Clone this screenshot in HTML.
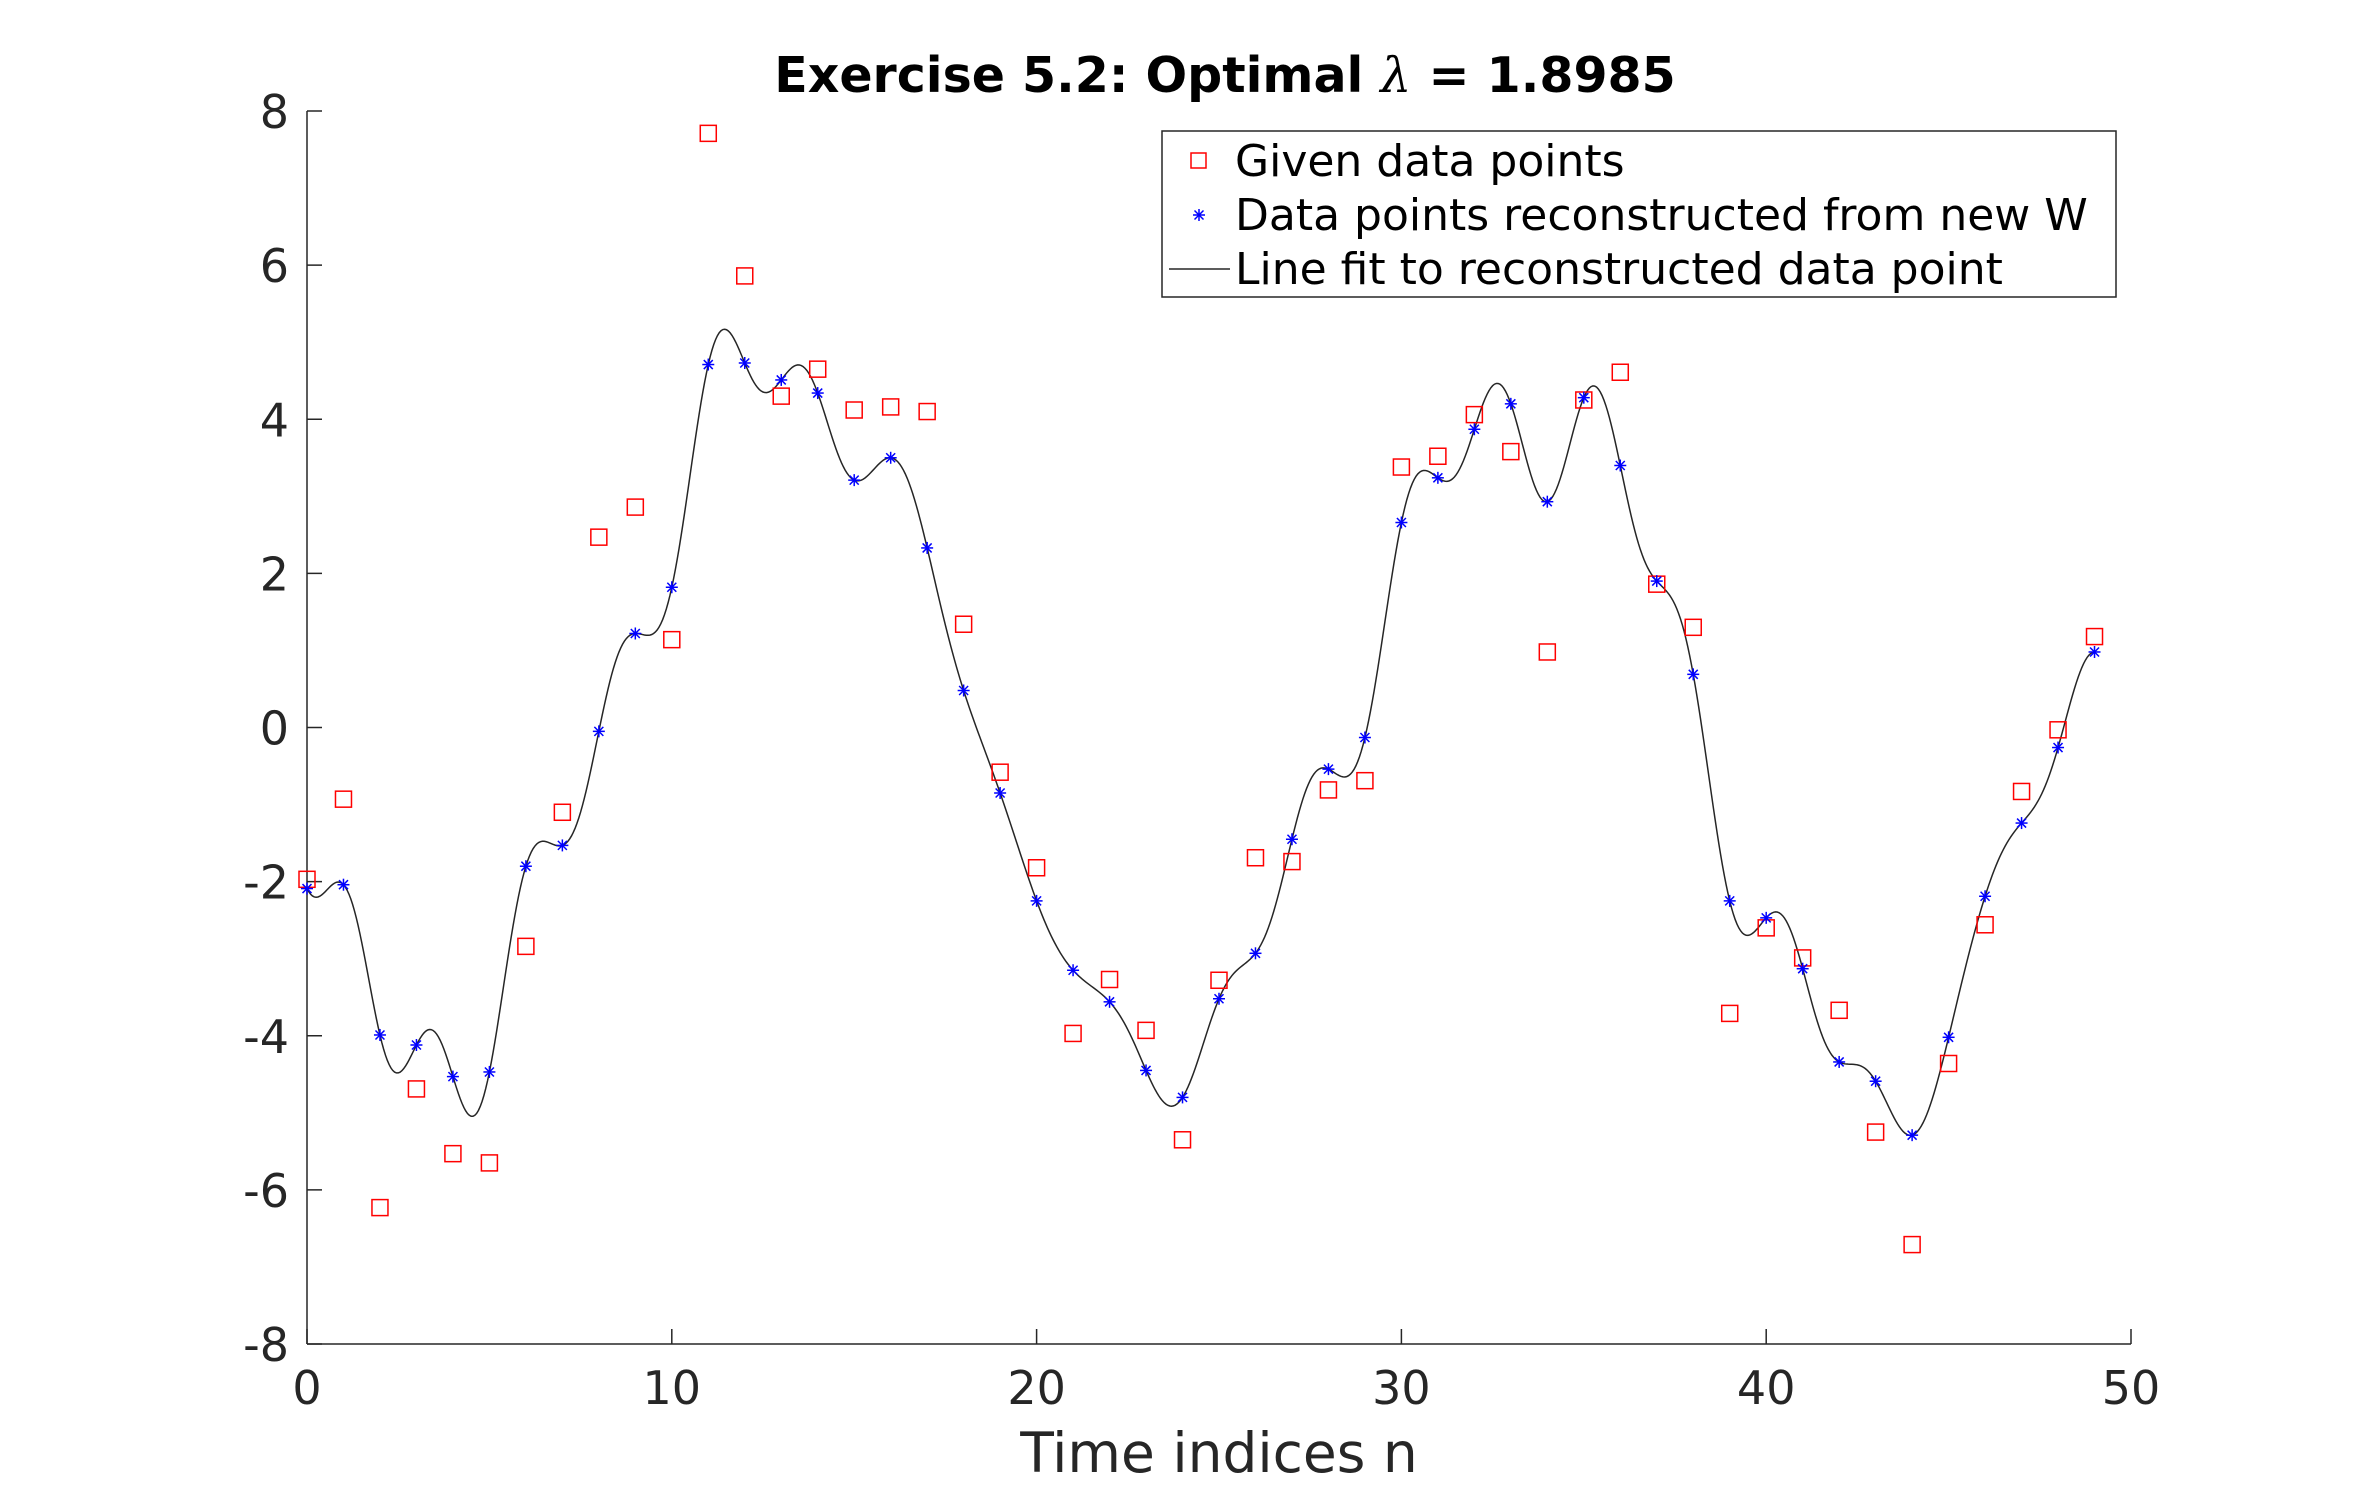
<!DOCTYPE html>
<html><head><meta charset="utf-8"><style>
html,body{margin:0;padding:0;background:#fff;}
svg{display:block;font-family:"DejaVu Sans","Liberation Sans",sans-serif;}
</style></head><body>
<svg id="chart" width="2356" height="1511" viewBox="0 0 2356 1511" xmlns="http://www.w3.org/2000/svg">
<rect x="0" y="0" width="2356" height="1511" fill="#fff"/>
<text x="1225" y="92" text-anchor="middle" font-size="49" font-weight="bold" fill="#000">Exercise 5.2: Optimal <tspan font-style="italic" font-weight="normal" font-family="DejaVu Serif, serif">λ</tspan> = 1.8985</text>
<g id="axes"></g>
<g id="curve"></g>
<g id="given"></g>
<g id="recon"></g>
<text x="1219" y="1472" text-anchor="middle" font-size="55" fill="#262626">Time indices n</text>
<g>
<rect x="1162" y="131" width="954" height="166" fill="#fff" stroke="#262626" stroke-width="1.5"/>
<rect x="1191" y="153" width="15" height="15" fill="none" stroke="#ff0000" stroke-width="1.5"/>
<text x="1235" y="176" font-size="44" fill="#000">Given data points</text>
<g transform="translate(1199,215)" stroke="#0000ff" stroke-width="1.5"><line x1="-6" y1="0" x2="6" y2="0"/><line x1="0" y1="-6" x2="0" y2="6"/><line x1="-4.5" y1="-4.5" x2="4.5" y2="4.5"/><line x1="-4.5" y1="4.5" x2="4.5" y2="-4.5"/></g>
<text x="1235" y="230" font-size="44" fill="#000">Data points reconstructed from new W</text>
<line x1="1169" y1="269" x2="1230" y2="269" stroke="#262626" stroke-width="1.5"/>
<text x="1235" y="284" font-size="44" fill="#000">Line fit to reconstructed data point</text>
</g>
</svg>
<script>
const givenValues=[-1.97,-0.93,-6.23,-4.69,-5.53,-5.65,-2.84,-1.10,2.47,2.86,1.14,7.71,5.86,4.30,4.65,4.12,4.16,4.10,1.34,-0.58,-1.82,-3.97,-3.27,-3.93,-5.35,-3.28,-1.69,-1.74,-0.81,-0.69,3.38,3.52,4.06,3.58,0.98,4.25,4.61,1.86,1.30,-3.71,-2.60,-2.99,-3.67,-5.25,-6.71,-4.36,-2.56,-0.83,-0.03,1.18];
const reconValues=[-2.09,-2.04,-3.99,-4.12,-4.53,-4.47,-1.80,-1.53,-0.05,1.22,1.82,4.71,4.73,4.51,4.34,3.21,3.50,2.33,0.48,-0.85,-2.25,-3.15,-3.56,-4.45,-4.80,-3.52,-2.93,-1.45,-0.54,-0.13,2.66,3.24,3.87,4.20,2.93,4.28,3.40,1.90,0.69,-2.25,-2.47,-3.13,-4.34,-4.59,-5.29,-4.02,-2.19,-1.24,-0.26,0.98];
const xTicks=[0,10,20,30,40,50];
const yTicks=[-8,-6,-4,-2,0,2,4,6,8];
const NS="http://www.w3.org/2000/svg";
const X0=307,X1=2131,Y0=1344,Y1=111;
function sx(v){return X0+(v-0)/(50-0)*(X1-X0);}
function sy(v){return Y0-(v+8)/16*(Y0-Y1);}
function mk(tag,attrs,parent){const e=document.createElementNS(NS,tag);for(const k in attrs)e.setAttribute(k,attrs[k]);parent.appendChild(e);return e;}
const axes=document.getElementById('axes');
let l=mk('line',{x1:X0,y1:Y0,x2:X1,y2:Y0,stroke:'#262626','stroke-width':1.5},axes);


l=mk('line',{x1:X0,y1:Y0,x2:X0,y2:Y1,stroke:'#262626','stroke-width':1.5},axes);


xTicks.forEach(t=>{
  const tk=mk('line',{x1:sx(t),y1:Y0,x2:sx(t),y2:Y0-15,stroke:'#262626','stroke-width':1.5},axes);
  
  
  const tx=mk('text',{x:sx(t),y:Y0+60,'text-anchor':'middle','font-size':46,fill:'#262626'},axes);
  tx.textContent=t;
  
  
});
yTicks.forEach(t=>{
  const tk=mk('line',{x1:X0,y1:sy(t),x2:X0+15,y2:sy(t),stroke:'#262626','stroke-width':1.5},axes);
  
  
  const tx=mk('text',{x:X0-18,y:sy(t)+17,'text-anchor':'end','font-size':46,fill:'#262626'},axes);
  tx.textContent=t;
  
  
});
function sinc(x){return x===0?1:Math.sin(Math.PI*x)/(Math.PI*x);}
let d='';
const N=reconValues.length;
for(let i=0;i<=(N-1)*20;i++){
  const t=i/20;let v=0;
  for(let k=0;k<N;k++)v+=reconValues[k]*sinc(t-k);
  d+=(i?'L':'M')+sx(t).toFixed(2)+','+sy(v).toFixed(2);
}
const path=mk('path',{d:d,fill:'none',stroke:'#262626','stroke-width':1.5},document.getElementById('curve'));


const given=document.getElementById('given');
givenValues.forEach((v,i)=>{
  const r=mk('rect',{x:sx(i)-8,y:sy(v)-8,width:16,height:16,fill:'none',stroke:'#ff0000','stroke-width':1.5},given);
  
  
});
const recon=document.getElementById('recon');
reconValues.forEach((v,i)=>{
  const g=mk('g',{transform:'translate('+sx(i)+','+sy(v)+')',stroke:'#0000ff','stroke-width':1.5},recon);
  
  
  mk('line',{x1:-6,y1:0,x2:6,y2:0},g);mk('line',{x1:0,y1:-6,x2:0,y2:6},g);
  mk('line',{x1:-4.5,y1:-4.5,x2:4.5,y2:4.5},g);mk('line',{x1:-4.5,y1:4.5,x2:4.5,y2:-4.5},g);
});
</script>
</body></html>
